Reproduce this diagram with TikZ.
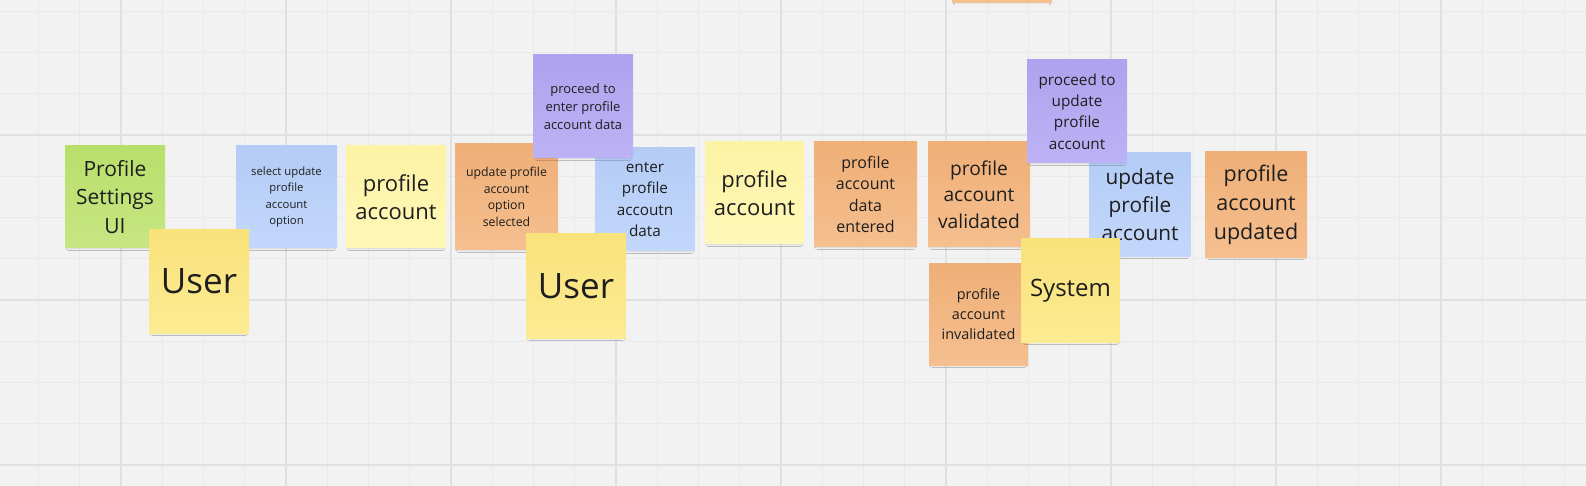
\documentclass[tikz,border=0pt]{standalone}
\usepackage{fontspec}
\setmainfont{Open Sans}
\usetikzlibrary{shadows.blur}
\definecolor{bgc}{HTML}{F2F2F2}
\definecolor{gridminor}{HTML}{E9E9E9}
\definecolor{gridmajor}{HTML}{E0E0E0}
\definecolor{greenT}{HTML}{B9DF6B}
\definecolor{greenB}{HTML}{C6E683}
\definecolor{yelT}{HTML}{F8E27A}
\definecolor{yelB}{HTML}{FCEB93}
\definecolor{lyT}{HTML}{FDF3A4}
\definecolor{lyB}{HTML}{FEF7B8}
\definecolor{blueT}{HTML}{B3CCF6}
\definecolor{blueB}{HTML}{C3D7FB}
\definecolor{orT}{HTML}{EFAF77}
\definecolor{orB}{HTML}{F5BF8F}
\definecolor{puT}{HTML}{AFA2EE}
\definecolor{puB}{HTML}{BDB2F5}
\definecolor{ink}{HTML}{1E1E1E}
\begin{document}
\begin{tikzpicture}[x=1pt,y=-1pt,
  note/.style={rectangle, inner sep=0pt, align=center, text=ink,
    blur shadow={shadow xshift=0pt, shadow yshift=-4pt, shadow scale=0.93, shadow opacity=13, shadow blur radius=2.5pt, shadow blur steps=5}},
  sz/.style 2 args={minimum width=#1pt, minimum height=#2pt},
  fs/.style 2 args={font=\fontsize{#1}{#2}\selectfont},
  cgreen/.style={top color=greenT, bottom color=greenB},
  cyellow/.style={top color=yelT, bottom color=yelB},
  clight/.style={top color=lyT, bottom color=lyB},
  cblue/.style={top color=blueT, bottom color=blueB},
  corange/.style={top color=orT, bottom color=orB},
  cpurple/.style={top color=puT, bottom color=puB},
]
\useasboundingbox (0,0) rectangle (1586,486);
\fill[bgc] (0,0) rectangle (1586,486);
% grid
\foreach \i in {-2,...,36} {
  \pgfmathsetmacro{\gx}{121+41.25*\i}
  \draw[gridminor, line width=1pt] (\gx,0) -- (\gx,486);
}
\foreach \i in {-3,...,8} {
  \pgfmathsetmacro{\gy}{135+41.25*\i}
  \draw[gridminor, line width=1pt] (0,\gy) -- (1586,\gy);
}
\foreach \i in {0,...,8} {
  \pgfmathsetmacro{\gx}{121+165*\i}
  \draw[gridmajor, line width=1.5pt] (\gx,0) -- (\gx,486);
}
\foreach \i in {0,...,2} {
  \pgfmathsetmacro{\gy}{135+165*\i}
  \draw[gridmajor, line width=1.5pt] (0,\gy) -- (1586,\gy);
}
% bottom layer notes
\node[note, cgreen, sz={100}{102}, fs={21}{28.5}] (psui) at (115,197) {Profile\\Settings\\UI};
\node[note, cblue, sz={101}{102}, fs={11.3}{16.3}] (sel) at (286.5,197) {select update\\profile\\account\\option};
\node[note, clight, sz={100}{102}, fs={22}{28}] (pa1) at (396,197) {profile\\account};
\node[note, corange, sz={103}{106}, fs={12.3}{16.7}] (upaos) at (506.5,197) {update profile\\account\\option\\selected};
\node[note, cblue, sz={100}{103}, fs={15.3}{21.5}] (epad) at (645,199.5) {enter\\profile\\accoutn\\data};
\node[note, clight, sz={99}{102}, fs={22}{28}] (pa2) at (754.5,193) {profile\\account};
\node[note, corange, sz={103}{105}, fs={16}{21.5}] (pade) at (865.5,194.5) {profile\\account\\data\\entered};
\node[note, corange, sz={102}{105}, fs={19.2}{26.7}] (pav) at (979,194.5) {profile\\account\\validated};
\node[note, cblue, sz={101}{103}, fs={20.8}{28}] (upa) at (1140,204.5) {update\\profile\\account};
\node[note, corange, sz={102}{105}, fs={21.5}{29}] (pau) at (1256,204.5) {profile\\account\\updated};
\node[note, corange, sz={99}{102}, fs={14.4}{20}] (pai) at (978.5,314) {profile\\account\\invalidated};
\node[note, corange, sz={100}{103}] (toporange) at (1002,-49) {};
% top layer notes
\node[note, cyellow, sz={100}{103}, fs={35}{40}] (user1) at (199,281.5) {User};
\node[note, cyellow, sz={100}{104}, fs={35}{40}] (user2) at (576,286) {User};
\node[note, cpurple, sz={100}{103}, fs={13}{18}] (pte) at (583,106.5) {proceed to\\enter profile\\account data};
\node[note, cpurple, sz={100}{103}, fs={15.3}{21.4}] (ptu) at (1077,111.5) {proceed to\\update\\profile\\account};
\node[note, cyellow, sz={99}{103}, fs={24}{30}] (sys) at (1070.5,290.5) {System};
\end{tikzpicture}
\end{document}
